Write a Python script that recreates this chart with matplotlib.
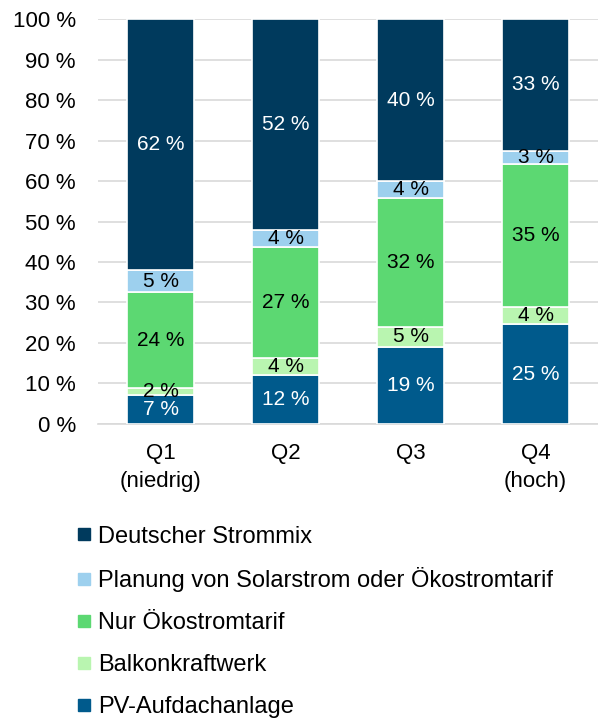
import matplotlib
matplotlib.use("Agg")
import matplotlib.pyplot as plt
from matplotlib.lines import Line2D
import numpy as np

plt.rcParams['font.family'] = ['Liberation Sans', 'DejaVu Sans']

categories = ["Q1\n(niedrig)", "Q2", "Q3", "Q4\n(hoch)"]
series_names = ["PV-Aufdachanlage", "Balkonkraftwerk", "Nur Ökostromtarif",
                "Planung von Solarstrom oder Ökostromtarif", "Deutscher Strommix"]
pv = [7.2, 12.0, 19.0, 24.6]
balkon = [1.6, 4.4, 5.0, 4.4]
oeko = [23.8, 27.2, 31.8, 35.2]
planung = [5.4, 4.4, 4.2, 3.3]
strommix = [62.0, 52.0, 40.0, 32.5]
pv_lbl = ["7 %", "12 %", "19 %", "25 %"]
balkon_lbl = ["2 %", "4 %", "5 %", "4 %"]
oeko_lbl = ["24 %", "27 %", "32 %", "35 %"]
planung_lbl = ["5 %", "4 %", "4 %", "3 %"]
strommix_lbl = ["62 %", "52 %", "40 %", "33 %"]
yticks = [0, 10, 20, 30, 40, 50, 60, 70, 80, 90, 100]

colors = ["#005A8C", "#B9F5B0", "#5CD872", "#9DD0EE", "#003A5D"]
txtcolors = ["white", "black", "black", "black", "white"]
data = [pv, balkon, oeko, planung, strommix]
labels = [pv_lbl, balkon_lbl, oeko_lbl, planung_lbl, strommix_lbl]

fig = plt.figure(figsize=(5.98, 7.18), dpi=100)
ax = fig.add_axes([0.164, 0.4095, 0.836, 0.564])
x = np.arange(len(categories))
bottom = np.zeros(len(categories))
for vals, lbls, c, tc in zip(data, labels, colors, txtcolors):
    v = np.array(vals)
    ax.bar(x, v, bottom=bottom, width=0.54, color=c, edgecolor="white", linewidth=1.2, zorder=3)
    for xi, b, vi, l in zip(x, bottom, v, lbls):
        ax.text(xi, b + vi / 2, l, ha="center", va="center", color=tc, fontsize=15, zorder=4)
    bottom += v

ax.set_xlim(-0.5, len(categories) - 0.5)
ax.set_ylim(0, 100)
ax.set_yticks(yticks)
ax.set_yticklabels([f"{t} %" for t in yticks], fontsize=16)
ax.set_xticks(x)
ax.set_xticklabels(categories, fontsize=16, linespacing=1.4)
ax.tick_params(axis="x", length=0, pad=14)
ax.tick_params(axis="y", length=0, pad=16)
ax.grid(axis="y", color="#D9D9D9", linewidth=1.2, zorder=0)
for s in ["top", "right", "left"]:
    ax.spines[s].set_visible(False)
ax.spines["bottom"].set_color("#D9D9D9")
ax.spines["bottom"].set_linewidth(1.2)

handles = [Line2D([], [], marker="s", linestyle="none", markersize=8, color=c) for c in colors[::-1]]
fig.legend(handles, series_names[::-1], loc="upper left", bbox_to_anchor=(0.128, 0.268),
           frameon=False, fontsize=17, handlelength=0.6, handletextpad=0.3,
           labelspacing=0.84, borderaxespad=0, borderpad=0)

fig.savefig("out.png", dpi=100)
